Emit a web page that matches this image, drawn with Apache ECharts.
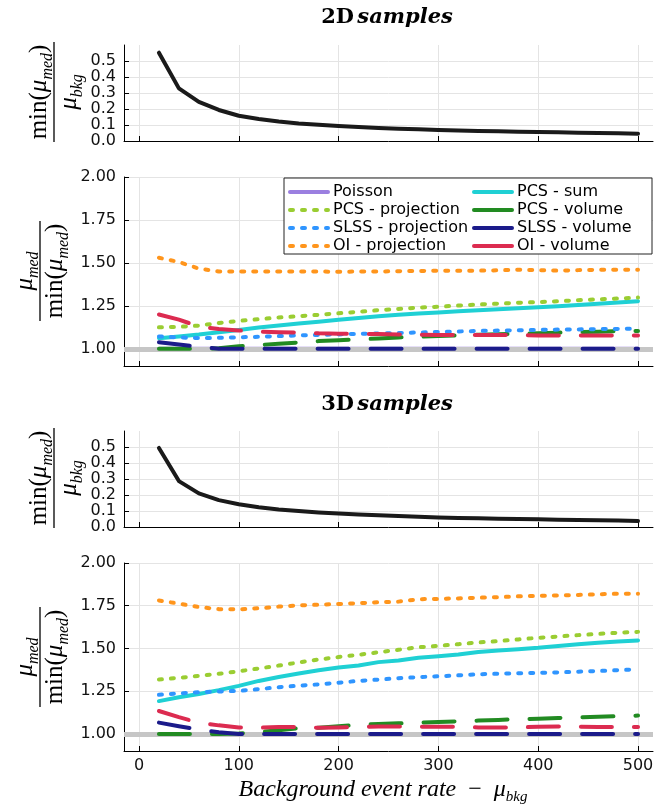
<!DOCTYPE html>
<html>
<head>
<meta charset="utf-8">
<script src="https://cdn.jsdelivr.net/npm/echarts@6/dist/echarts.min.js"></script>
<style>
html, body { margin: 0; padding: 0; background: #fff; }
#chart { width: 662px; height: 804px; }
</style>
</head>
<body>
<div id="chart"></div>
<script>
// background event rate (x for every curve)
const bkg = [20, 40, 60, 80, 100, 120, 140, 160, 180, 200, 220, 240, 260, 280, 300, 320, 340, 360, 380, 400, 420, 440, 460, 480, 500];
const xTicks = [0, 100, 200, 300, 400, 500];
const smallTicks = [0, 0.1, 0.2, 0.3, 0.4, 0.5];
const ratioTicks = [1.0, 1.25, 1.5, 1.75, 2.0];

// min(mu_med)/mu_bkg
const minRatio2D = [0.552, 0.329, 0.244, 0.194, 0.158, 0.138, 0.122, 0.110, 0.101, 0.094, 0.087, 0.082, 0.077, 0.073, 0.069, 0.066, 0.063, 0.061, 0.058, 0.056, 0.054, 0.052, 0.050, 0.048, 0.046];
const minRatio3D = [0.494, 0.287, 0.210, 0.168, 0.142, 0.123, 0.110, 0.100, 0.091, 0.084, 0.078, 0.073, 0.068, 0.064, 0.060, 0.057, 0.054, 0.052, 0.050, 0.048, 0.046, 0.044, 0.042, 0.040, 0.038];

// 2D samples: mu_med / min(mu_med)
const poisson2D  = [1, 1, 1, 1, 1, 1, 1, 1, 1, 1, 1, 1, 1, 1, 1, 1, 1, 1, 1, 1, 1, 1, 1, 1, 1];
const pcsSum2D   = [1.062, 1.072, 1.083, 1.097, 1.110, 1.124, 1.136, 1.147, 1.158, 1.169, 1.180, 1.190, 1.198, 1.205, 1.212, 1.218, 1.224, 1.230, 1.236, 1.242, 1.248, 1.255, 1.262, 1.270, 1.277];
const pcsProj2D  = [1.125, 1.128, 1.135, 1.150, 1.163, 1.172, 1.182, 1.190, 1.198, 1.207, 1.215, 1.225, 1.232, 1.240, 1.245, 1.252, 1.258, 1.263, 1.268, 1.272, 1.277, 1.283, 1.288, 1.293, 1.298];
const pcsVol2D   = [1.000, 1.000, 1.000, 1.003, 1.015, 1.022, 1.030, 1.037, 1.045, 1.050, 1.055, 1.060, 1.066, 1.070, 1.075, 1.078, 1.082, 1.085, 1.088, 1.091, 1.094, 1.097, 1.100, 1.102, 1.104];
const slssProj2D = [1.072, 1.066, 1.063, 1.064, 1.067, 1.070, 1.074, 1.078, 1.081, 1.084, 1.087, 1.089, 1.092, 1.095, 1.098, 1.101, 1.104, 1.106, 1.108, 1.110, 1.112, 1.113, 1.115, 1.116, 1.118];
const slssVol2D  = [1.038, 1.025, 1.012, 1.000, 1.000, 1.000, 1.000, 1.000, 1.000, 1.000, 1.000, 1.000, 1.000, 1.000, 1.000, 1.000, 1.000, 1.000, 1.000, 1.000, 1.000, 1.000, 1.000, 1.000, 1.000];
const oiProj2D   = [1.530, 1.505, 1.467, 1.450, 1.450, 1.450, 1.450, 1.450, 1.450, 1.448, 1.450, 1.450, 1.452, 1.453, 1.455, 1.455, 1.455, 1.457, 1.460, 1.458, 1.455, 1.458, 1.460, 1.460, 1.460];
const oiVol2D    = [1.200, 1.170, 1.130, 1.115, 1.107, 1.100, 1.097, 1.095, 1.090, 1.088, 1.087, 1.086, 1.084, 1.082, 1.080, 1.080, 1.081, 1.081, 1.080, 1.077, 1.077, 1.078, 1.078, 1.078, 1.078];

// 3D samples
const poisson3D  = [1, 1, 1, 1, 1, 1, 1, 1, 1, 1, 1, 1, 1, 1, 1, 1, 1, 1, 1, 1, 1, 1, 1, 1, 1];
const pcsSum3D   = [1.192, 1.215, 1.234, 1.256, 1.281, 1.310, 1.333, 1.353, 1.372, 1.388, 1.400, 1.420, 1.430, 1.446, 1.455, 1.465, 1.479, 1.488, 1.496, 1.504, 1.515, 1.525, 1.533, 1.541, 1.547];
const pcsProj3D  = [1.318, 1.328, 1.340, 1.352, 1.366, 1.383, 1.400, 1.418, 1.435, 1.450, 1.463, 1.478, 1.492, 1.507, 1.515, 1.525, 1.535, 1.543, 1.553, 1.562, 1.570, 1.578, 1.585, 1.592, 1.597];
const pcsVol3D   = [1.000, 1.000, 1.000, 1.000, 1.003, 1.010, 1.022, 1.033, 1.036, 1.045, 1.053, 1.058, 1.062, 1.066, 1.070, 1.074, 1.078, 1.082, 1.086, 1.089, 1.093, 1.097, 1.100, 1.104, 1.107];
const slssProj3D = [1.229, 1.237, 1.244, 1.248, 1.252, 1.262, 1.273, 1.282, 1.290, 1.300, 1.310, 1.318, 1.326, 1.332, 1.337, 1.343, 1.349, 1.352, 1.355, 1.357, 1.360, 1.364, 1.368, 1.373, 1.378];
const slssVol3D  = [1.066, 1.045, 1.025, 1.010, 1.000, 1.000, 1.000, 1.000, 1.000, 1.000, 1.000, 1.000, 1.000, 1.000, 1.000, 1.000, 1.000, 1.000, 1.000, 1.000, 1.000, 1.000, 1.000, 1.000, 1.000];
const oiProj3D   = [1.781, 1.762, 1.742, 1.730, 1.729, 1.735, 1.745, 1.752, 1.756, 1.760, 1.765, 1.770, 1.774, 1.788, 1.790, 1.793, 1.797, 1.800, 1.805, 1.808, 1.810, 1.813, 1.817, 1.820, 1.820];
const oiVol3D    = [1.134, 1.098, 1.065, 1.050, 1.038, 1.036, 1.040, 1.040, 1.036, 1.037, 1.040, 1.043, 1.043, 1.042, 1.042, 1.042, 1.038, 1.037, 1.038, 1.042, 1.043, 1.042, 1.041, 1.041, 1.041];

const DOT = [3, 9];
const DASH = [31, 22];

let myChart = echarts.init(document.getElementById('chart'));

function pairs (ys) {
  return bkg.map((x, i) => [x, ys[i]]);
}

function line (name, ys, g, color, type, z) {
  return {
    name: name,
    type: 'line',
    xAxisIndex: g,
    yAxisIndex: g,
    data: pairs(ys),
    symbol: 'none',
    silent: true,
    z: z || 3,
    lineStyle: { color: color, width: 4, type: type || 'solid', cap: 'round', join: 'round' },
    itemStyle: { color: color }
  };
}

function ratioSeries (g, d) {
  let poisson = line('Poisson', d.poisson, g, '#9b7fe0', 'solid', 2);
  // reference line at 1, drawn over Poisson
  poisson.markLine = {
    silent: true,
    symbol: 'none',
    z: 2.5,
    label: { show: false },
    lineStyle: { color: '#c6c6c6', width: 5, type: 'solid' },
    data: [{ yAxis: 1 }]
  };
  return [
    poisson,
    line('PCS - sum', d.pcsSum, g, '#1fd0d4'),
    line('PCS - projection', d.pcsProj, g, '#9acd32', DOT),
    line('PCS - volume', d.pcsVol, g, '#228b22', DASH),
    line('SLSS - projection', d.slssProj, g, '#2f95ff', DOT),
    line('SLSS - volume', d.slssVol, g, '#1b1b8a', DASH),
    line('OI - projection', d.oiProj, g, '#ff951c', DOT),
    line('OI - volume', d.oiVol, g, '#dc2b50', DASH)
  ];
}

const tickFont = { color: '#111', fontSize: 16, fontFamily: 'DejaVu Sans' };

function xAxis (g, labels) {
  return {
    type: 'value',
    gridIndex: g,
    min: -15,
    max: 515,
    axisLine: { show: true, onZero: false, lineStyle: { color: '#000', width: 1 } },
    axisTick: { show: true, inside: true, length: 5, customValues: xTicks, lineStyle: { color: '#000' } },
    axisLabel: Object.assign({ show: labels, customValues: xTicks, margin: 7 }, tickFont),
    splitLine: { show: true, lineStyle: { color: '#e4e4e4', width: 1 } }
  };
}

function yAxis (g, min, max, ticks, digits) {
  return {
    type: 'value',
    gridIndex: g,
    min: min,
    max: max,
    axisLine: { show: true, onZero: false, lineStyle: { color: '#000', width: 1 } },
    axisTick: { show: true, inside: true, length: 5, customValues: ticks, lineStyle: { color: '#000' } },
    axisLabel: Object.assign({ customValues: ticks, margin: 8, formatter: v => v.toFixed(digits) }, tickFont),
    splitLine: { show: true, lineStyle: { color: '#e4e4e4', width: 1 } }
  };
}

const serif = 'Liberation Serif';
const mathRich = {
  n: { fontFamily: serif, fontSize: 25, lineHeight: 34, fill: '#000', color: '#000' },
  m: { fontFamily: serif, fontStyle: 'italic', fontSize: 25, lineHeight: 34, fill: '#000', color: '#000' },
  s: { fontFamily: serif, fontStyle: 'italic', fontSize: 16, lineHeight: 16, verticalAlign: 'bottom', fill: '#000', color: '#000' }
};

function fraction (x, y, num, den) {
  return {
    type: 'group',
    x: x,
    y: y,
    rotation: Math.PI / 2,
    children: [
      { type: 'line', shape: { x1: -50, y1: 0, x2: 50, y2: 0 }, style: { stroke: '#000', lineWidth: 1.3 } },
      { type: 'text', x: 0, y: 2, style: { text: num, rich: mathRich, align: 'center', verticalAlign: 'bottom' } },
      { type: 'text', x: 0, y: -2, style: { text: den, rich: mathRich, align: 'center', verticalAlign: 'top' } }
    ]
  };
}

const titleRich = {
  b: { fontFamily: 'DejaVu Serif', fontWeight: 'bold', fontSize: 21, fill: '#000' },
  i: { fontFamily: 'DejaVu Serif', fontWeight: 'bold', fontStyle: 'italic', fontSize: 21, fill: '#000' }
};

const minFrac = '{n|min(}{m|μ}{s|med}{n|)}';
const muMed = '{m|μ}{s|med}';
const muBkg = '{m|μ}{s|bkg}';

const d2 = { poisson: poisson2D, pcsSum: pcsSum2D, pcsProj: pcsProj2D, pcsVol: pcsVol2D, slssProj: slssProj2D, slssVol: slssVol2D, oiProj: oiProj2D, oiVol: oiVol2D };
const d3 = { poisson: poisson3D, pcsSum: pcsSum3D, pcsProj: pcsProj3D, pcsVol: pcsVol3D, slssProj: slssProj3D, slssVol: slssVol3D, oiProj: oiProj3D, oiVol: oiVol3D };

const legendText = { fontSize: 16, fontFamily: 'DejaVu Sans', color: '#000', lineHeight: 16 };
const legendLine = { width: 4, cap: 'round' };

myChart.setOption({
  animation: false,
  backgroundColor: '#fff',
  grid: [
    { left: 124, width: 529, top: 45, height: 96 },
    { left: 124, width: 529, top: 177, height: 189 },
    { left: 124, width: 529, top: 431, height: 96 },
    { left: 124, width: 529, top: 563, height: 188 }
  ],
  xAxis: [xAxis(0, false), xAxis(1, false), xAxis(2, false), xAxis(3, true)],
  yAxis: [
    yAxis(0, 0, 0.6, smallTicks, 1),
    yAxis(1, 0.9, 2.0, ratioTicks, 2),
    yAxis(2, 0, 0.6, smallTicks, 1),
    yAxis(3, 0.9, 2.0, ratioTicks, 2)
  ],
  legend: [
    {
      orient: 'vertical', left: 283, top: 179, itemWidth: 38, itemHeight: 10, itemGap: 2, z: 11,
      itemStyle: { opacity: 0, borderWidth: 0 },
      lineStyle: legendLine,
      textStyle: legendText,
      data: ['Poisson', 'PCS - projection', 'SLSS - projection', 'OI - projection']
    },
    {
      orient: 'vertical', left: 467, top: 179, itemWidth: 38, itemHeight: 10, itemGap: 2, z: 11,
      itemStyle: { opacity: 0, borderWidth: 0 },
      lineStyle: legendLine,
      textStyle: legendText,
      data: [
        'PCS - sum',
        { name: 'PCS - volume', lineStyle: { type: 'solid', width: 4 } },
        { name: 'SLSS - volume', lineStyle: { type: 'solid', width: 4 } },
        { name: 'OI - volume', lineStyle: { type: 'solid', width: 4 } }
      ]
    }
  ],
  graphic: [
    { type: 'rect', z: 10, shape: { x: 284, y: 178, width: 368, height: 76 }, style: { fill: '#fff', stroke: '#222', lineWidth: 1 } },
    { type: 'text', x: 387, y: 18, style: { text: '{b|2D} {i|samples}', rich: titleRich, align: 'center', verticalAlign: 'middle' } },
    { type: 'text', x: 387, y: 405, style: { text: '{b|3D} {i|samples}', rich: titleRich, align: 'center', verticalAlign: 'middle' } },
    fraction(54, 92, minFrac, muBkg),
    fraction(40, 271, muMed, minFrac),
    fraction(54, 478, minFrac, muBkg),
    fraction(40, 657, muMed, minFrac),
    {
      type: 'text', x: 383, y: 790,
      style: {
        text: '{m|Background event rate}{n|  −  }{m|μ}{s|bkg}',
        rich: {
          n: { fontFamily: serif, fontSize: 24, lineHeight: 30, fill: '#000' },
          m: { fontFamily: serif, fontStyle: 'italic', fontSize: 24, lineHeight: 30, fill: '#000' },
          s: { fontFamily: serif, fontStyle: 'italic', fontSize: 15, lineHeight: 15, verticalAlign: 'bottom', fill: '#000' }
        },
        align: 'center', verticalAlign: 'middle'
      }
    }
  ],
  series: [
    line('min2D', minRatio2D, 0, '#1a1a1a'),
    ...ratioSeries(1, d2),
    line('min3D', minRatio3D, 2, '#1a1a1a'),
    ...ratioSeries(3, d3)
  ]
});

window.addEventListener('resize', () => {
  myChart.resize();
});
</script>
</body>
</html>
